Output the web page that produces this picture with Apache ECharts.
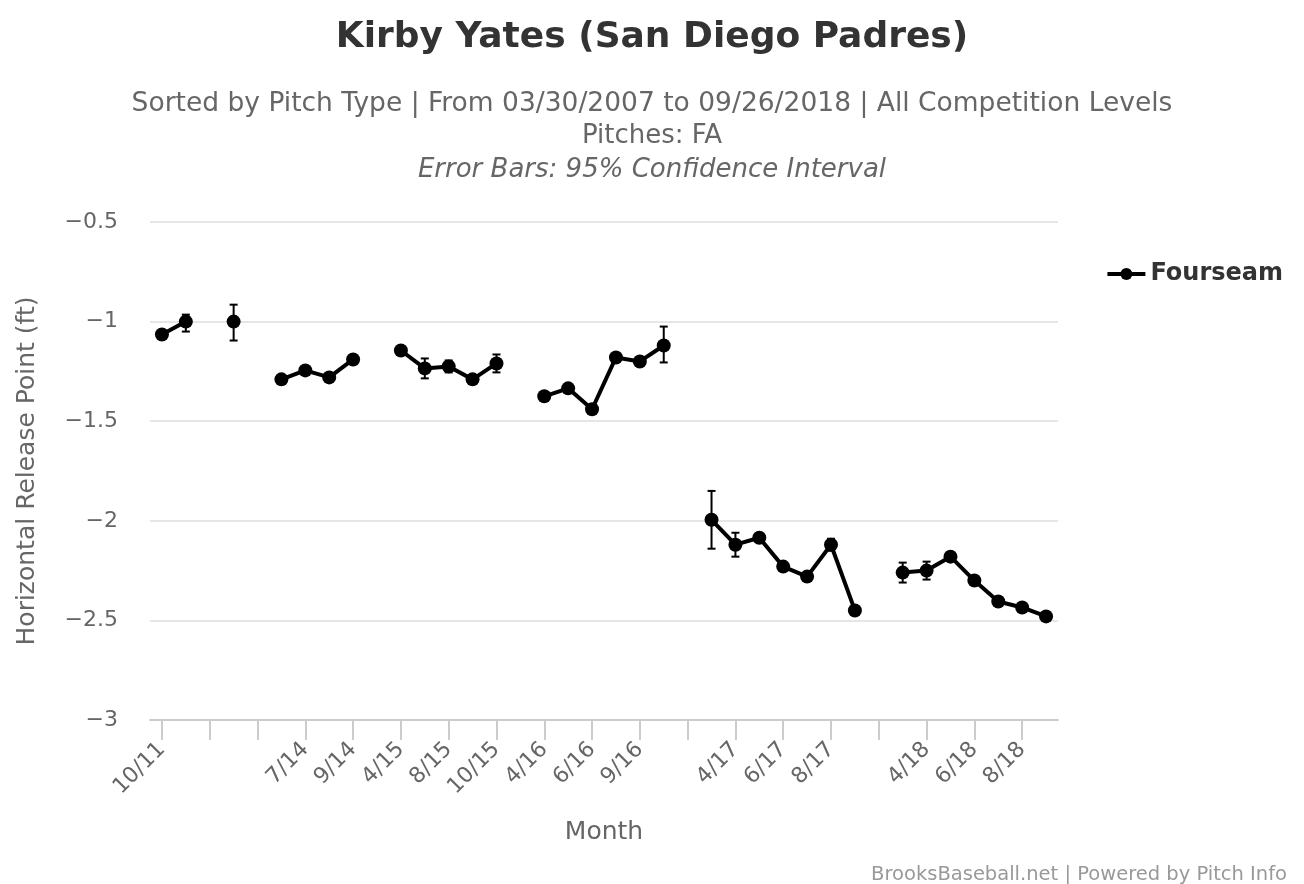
<!DOCTYPE html>
<html>
<head>
<meta charset="utf-8">
<title>Kirby Yates - Horizontal Release Point</title>
<script src="https://cdn.jsdelivr.net/npm/echarts@6/dist/echarts.min.js"></script>
<style>
  html, body { margin: 0; padding: 0; background: #fff; }
  #chart { width: 1304px; height: 884px; }
</style>
</head>
<body>
<div id="chart"></div>
<script>
// months (empty name = break between seasons)
var months = ['10/11', '11/11', '', '7/13', '', '6/14', '7/14', '8/14', '9/14', '',
              '4/15', '7/15', '8/15', '9/15', '10/15', '',
              '4/16', '5/16', '6/16', '8/16', '9/16', '10/16', '',
              '3/17', '4/17', '5/17', '6/17', '7/17', '8/17', '9/17', '',
              '3/18', '4/18', '5/18', '6/18', '7/18', '8/18', '9/18'];

var fourseam = [-1.065, -1.0, null, -1.0, null, -1.29, -1.245, -1.28, -1.19, null,
                -1.145, -1.235, -1.225, -1.29, -1.21, null,
                -1.375, -1.335, -1.44, -1.18, -1.2, -1.12, null,
                -1.995, -2.12, -2.085, -2.23, -2.28, -2.12, -2.45, null,
                -2.26, -2.25, -2.18, -2.3, -2.405, -2.435, -2.48];

// 95% confidence interval, lower / upper
var errLow  = [-1.08, -1.05, null, -1.095, null, -1.30, -1.255, -1.29, -1.20, null,
               -1.165, -1.285, -1.255, -1.30, -1.255, null,
               -1.39, -1.345, -1.45, -1.19, -1.22, -1.205, null,
               -2.14, -2.18, -2.10, -2.25, -2.29, -2.15, -2.46, null,
               -2.31, -2.295, -2.19, -2.31, -2.415, -2.445, -2.49];
var errHigh = [-1.05, -0.965, null, -0.915, null, -1.28, -1.235, -1.27, -1.18, null,
               -1.125, -1.185, -1.195, -1.28, -1.165, null,
               -1.36, -1.325, -1.43, -1.17, -1.18, -1.025, null,
               -1.85, -2.06, -2.07, -2.21, -2.27, -2.09, -2.44, null,
               -2.21, -2.205, -2.17, -2.29, -2.395, -2.425, -2.47];

var yTicks = { min: -3, max: -0.5, interval: 0.5 };

var chart = echarts.init(document.getElementById('chart'));

var errData = [];
for (var i = 0; i < months.length; i++) {
  if (errLow[i] !== null) errData.push([i, errLow[i], errHigh[i]]);
}

function renderErrorBar(params, api) {
  var x = api.value(0);
  var lo = api.coord([x, api.value(1)]);
  var hi = api.coord([x, api.value(2)]);
  var cap = 4;
  var st = { stroke: '#000', lineWidth: 2 };
  return {
    type: 'group',
    children: [
      { type: 'line', shape: { x1: lo[0], y1: lo[1], x2: hi[0], y2: hi[1] }, style: st },
      { type: 'line', shape: { x1: lo[0] - cap, y1: lo[1], x2: lo[0] + cap, y2: lo[1] }, style: st },
      { type: 'line', shape: { x1: hi[0] - cap, y1: hi[1], x2: hi[0] + cap, y2: hi[1] }, style: st }
    ]
  };
}

var font = 'DejaVu Sans';

var option = {
  backgroundColor: '#fff',
  animation: false,
  title: [
    {
      text: 'Kirby Yates (San Diego Padres)',
      left: 'center', top: 15,
      textStyle: { fontFamily: font, fontSize: 36, fontWeight: 'bold', color: '#333' }
    },
    {
      text: 'Sorted by Pitch Type | From 03/30/2007 to 09/26/2018 | All Competition Levels',
      left: 'center', top: 86,
      textStyle: { fontFamily: font, fontSize: 26.5, fontWeight: 'normal', color: '#666' }
    },
    {
      text: 'Pitches: FA',
      left: 'center', top: 118,
      textStyle: { fontFamily: font, fontSize: 26, fontWeight: 'normal', color: '#666' }
    },
    {
      text: 'Error Bars: 95% Confidence Interval',
      left: 'center', top: 152,
      textStyle: { fontFamily: font, fontSize: 26, fontWeight: 'normal', fontStyle: 'italic', color: '#666' }
    },
    {
      text: 'BrooksBaseball.net | Powered by Pitch Info',
      right: 12, top: 860,
      textStyle: { fontFamily: font, fontSize: 19.5, fontWeight: 'normal', color: '#999' }
    }
  ],
  legend: {
    data: ['Fourseam'],
    right: 16, top: 257,
    itemWidth: 38, itemHeight: 15, itemGap: 10,
    lineStyle: { width: 4 },
    textStyle: { fontFamily: font, fontSize: 24, fontWeight: 'bold', color: '#333' }
  },
  grid: { left: 150, right: 246, top: 222, bottom: 164 },
  xAxis: {
    type: 'category',
    data: months,
    boundaryGap: true,
    name: 'Month',
    nameLocation: 'middle',
    nameGap: 100,
    nameTextStyle: { fontFamily: font, fontSize: 25, color: '#666' },
    axisLine: { lineStyle: { color: '#ccc', width: 2 } },
    axisTick: { show: true, alignWithLabel: true, interval: 1, length: 20, lineStyle: { color: '#ccc', width: 2 } },
    axisLabel: { interval: 1, rotate: 45, margin: 26, fontFamily: font, fontSize: 22, color: '#666' },
    splitLine: { show: false }
  },
  yAxis: {
    type: 'value',
    min: yTicks.min, max: yTicks.max, interval: yTicks.interval,
    name: 'Horizontal Release Point (ft)',
    nameLocation: 'middle',
    nameGap: 110,
    nameTextStyle: { fontFamily: font, fontSize: 25, color: '#666' },
    axisLine: { show: false },
    axisTick: { show: false },
    axisLabel: {
      margin: 32, fontFamily: font, fontSize: 22, color: '#666',
      formatter: function(v) { return String(v).replace('-', '\u2212'); }
    },
    splitLine: { lineStyle: { color: '#e6e6e6', width: 2 } }
  },
  series: [
    {
      name: 'Fourseam',
      type: 'line',
      data: fourseam,
      connectNulls: false,
      symbol: 'circle',
      symbolSize: 14,
      itemStyle: { color: '#000' },
      lineStyle: { color: '#000', width: 4 },
      z: 3
    },
    {
      name: 'error',
      type: 'custom',
      renderItem: renderErrorBar,
      data: errData,
      encode: { x: 0, y: [1, 2] },
      z: 4
    }
  ]
};

chart.setOption(option);
</script>
</body>
</html>
